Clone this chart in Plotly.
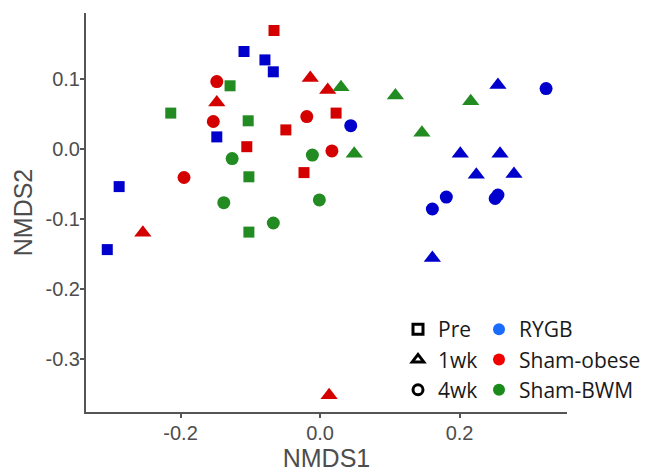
import plotly.graph_objects as go

# NMDS ordination scores, grouped by time point; each point tagged with its surgery group
groups = ["RYGB", "Sham-obese", "Sham-BWM"]
times = ["Pre", "1wk", "4wk"]

pre_group = ["RYGB"] * 6 + ["Sham-obese"] * 5 + ["Sham-BWM"] * 5
pre_x = [-0.109, -0.079, -0.067, -0.148, -0.288, -0.305,
         -0.066, -0.049, -0.105, -0.023, 0.023,
         -0.129, -0.214, -0.103, -0.102, -0.102]
pre_y = [0.139, 0.127, 0.110, 0.017, -0.054, -0.144,
         0.169, 0.027, 0.003, -0.034, 0.051,
         0.090, 0.051, 0.040, -0.040, -0.119]

wk1_group = ["RYGB"] * 6 + ["Sham-obese"] * 5 + ["Sham-BWM"] * 5
wk1_x = [0.255, 0.201, 0.258, 0.224, 0.278, 0.161,
         -0.014, 0.011, -0.148, -0.254, 0.013,
         0.030, 0.108, 0.216, 0.146, 0.049]
wk1_y = [0.091, -0.007, -0.007, -0.037, -0.036, -0.156,
         0.101, 0.084, 0.066, -0.120, -0.352,
         0.088, 0.076, 0.068, 0.023, -0.007]

wk4_group = ["RYGB"] * 6 + ["Sham-obese"] * 5 + ["Sham-BWM"] * 5
wk4_x = [0.324, 0.044, 0.181, 0.161, 0.255, 0.251,
         -0.148, -0.153, -0.019, 0.017, -0.195,
         -0.126, -0.011, -0.138, -0.001, -0.067]
wk4_y = [0.086, 0.033, -0.069, -0.086, -0.066, -0.071,
         0.096, 0.039, 0.046, -0.003, -0.041,
         -0.014, -0.009, -0.077, -0.073, -0.106]

x_ticks = [-0.2, 0.0, 0.2]
y_ticks = [-0.3, -0.2, -0.1, 0.0, 0.1]

point_colors = {"RYGB": "#0000cd", "Sham-obese": "#d40000", "Sham-BWM": "#228b22"}
key_colors = {"RYGB": "#1a6cff", "Sham-obese": "#f20000", "Sham-BWM": "#1a8a1a"}
symbols = {"Pre": "square", "1wk": "triangle-up", "4wk": "circle"}
sizes = {"Pre": 11, "1wk": 15, "4wk": 13}

series = {"Pre": (pre_group, pre_x, pre_y),
          "1wk": (wk1_group, wk1_x, wk1_y),
          "4wk": (wk4_group, wk4_x, wk4_y)}

fig = go.Figure()

for t in times:
    grp, xs, ys = series[t]
    for g in groups:
        px = [x for gg, x in zip(grp, xs) if gg == g]
        py = [y for gg, y in zip(grp, ys) if gg == g]
        fig.add_trace(go.Scatter(
            x=px, y=py, mode="markers", showlegend=False,
            marker=dict(symbol=symbols[t], size=sizes[t],
                        color=point_colors[g], line=dict(width=0)),
        ))

# shape key (time point)
for t in times:
    fig.add_trace(go.Scatter(
        x=[None], y=[None], mode="markers", name=t, legend="legend",
        marker=dict(symbol=symbols[t] + "-open", size=10, color="black",
                    line=dict(width=3, color="black")),
    ))

# colour key (group)
for g in groups:
    fig.add_trace(go.Scatter(
        x=[None], y=[None], mode="markers", name=g, legend="legend2",
        marker=dict(symbol="circle", size=12, color=key_colors[g]),
    ))

axis_color = "#555555"
tick_font = dict(family="Liberation Sans, Arial, sans-serif", size=20, color="#4d4d4d")
title_font = dict(family="Liberation Sans, Arial, sans-serif", size=25, color="#4d4d4d")
legend_font = dict(family="Open Sans, sans-serif", size=21, color="#1a1a1a")

fig.update_layout(
    width=650, height=476,
    margin=dict(l=86, r=83, t=13, b=64, autoexpand=False),
    paper_bgcolor="white", plot_bgcolor="white",
    xaxis=dict(
        range=[-0.3355, 0.354], tickvals=x_ticks,
        ticktext=[f"{v:.1f}" for v in x_ticks],
        showgrid=False, zeroline=False,
        showline=True, linecolor=axis_color, linewidth=2,
        ticks="outside", ticklen=4, tickwidth=1.5, tickcolor=axis_color,
        tickfont=tick_font, ticklabelstandoff=-2,
        title=dict(text="NMDS1", font=title_font, standoff=6),
        automargin=False,
    ),
    yaxis=dict(
        range=[-0.376, 0.194], tickvals=y_ticks,
        ticktext=[f"{v:.1f}" for v in y_ticks],
        showgrid=False, zeroline=False,
        showline=True, linecolor=axis_color, linewidth=2,
        ticks="outside", ticklen=4, tickwidth=1.5, tickcolor=axis_color,
        tickfont=tick_font, ticklabelstandoff=-4,
        title=dict(text="NMDS2", font=title_font, standoff=6),
        automargin=False,
    ),
    legend=dict(
        x=(398 - 86) / 481, y=1 - (309 - 13) / 399,
        xanchor="left", yanchor="top",
        bgcolor="rgba(0,0,0,0)", borderwidth=0,
        font=legend_font, itemsizing="trace",
    ),
    legend2=dict(
        x=(479 - 86) / 481, y=1 - (309 - 13) / 399,
        xanchor="left", yanchor="top",
        bgcolor="rgba(0,0,0,0)", borderwidth=0,
        font=legend_font, itemsizing="trace",
    ),
)

fig.write_html("out.html")
